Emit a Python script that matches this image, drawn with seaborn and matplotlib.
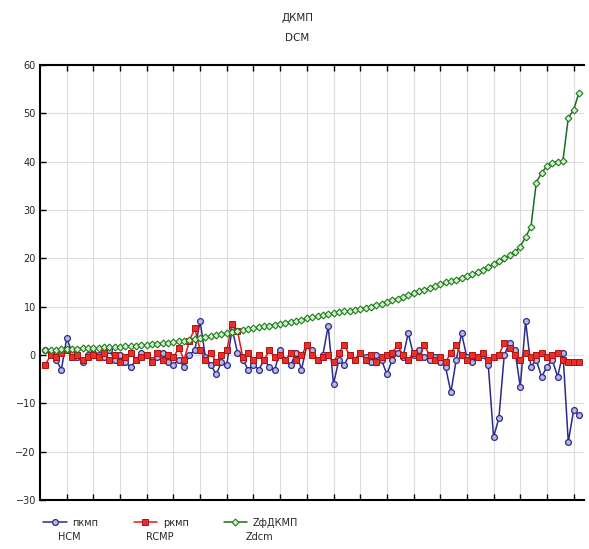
import numpy as np
import pandas as pd
import matplotlib
matplotlib.use('Agg')
import matplotlib.pyplot as plt
import seaborn as sns

# Series values (case 1..101)
hcm = [1.0, 0.5, -1.0, -3.0, 3.5, 0.5, -0.5, -1.5, 0.0, 0.5,
       0.0, -0.5, 1.0, -1.0, 0.0, -1.5, -2.5, -1.0, 0.5, 0.0,
       -1.0, -0.5, 0.5, -1.5, -2.0, -1.0, -2.5, 0.0, 1.0, 7.0,
       -0.5, -2.0, -4.0, -1.5, -2.0, 5.5, 0.5, -1.0, -3.0, -2.0,
       -3.0, -1.0, -2.5, -3.0, 1.0, -1.0, -2.0, 0.5, -3.0, 2.0,
       1.0, -1.0, 0.0, 6.0, -6.0, -1.0, -2.0, 0.0, -1.0, 0.5,
       -0.5, -1.5, 0.0, -1.0, -4.0, -1.0, 0.5, -0.5, 4.5, 0.0,
       1.0, -0.5, -1.0, -0.5, -1.5, -2.5, -7.7, -1.0, 4.5, -0.5,
       -1.4, -0.5, 0.0, -2.0, -17.0, -13.0, 0.0, 2.5, 1.0, -6.6,
       7.0, -2.4, -1.0, -4.5, -2.4, -1.0, -4.5, 0.4, -18.0, -11.4,
       -12.4]

rcmp = [-2.0, 0.0, -0.5, 0.5, 1.0, -0.5, 0.0, -1.0, -0.5, 0.0,
        -0.5, 0.5, -1.0, 0.0, -1.5, -0.5, 0.5, -1.0, -0.5, 0.0,
        -1.5, 0.5, -1.0, 0.0, -0.5, 1.5, -1.0, 3.0, 5.5, 1.0,
        -1.0, 0.5, -1.5, 0.0, 1.0, 6.5, 5.0, -0.5, 0.5, -1.0,
        0.0, -1.0, 1.0, -0.5, 0.0, -1.0, 0.5, -1.0, 0.0, 2.0,
        0.0, -1.0, -0.5, 0.0, -1.5, 0.5, 2.0, 0.0, -1.0, 0.5,
        -1.0, 0.0, -1.5, -0.5, 0.0, 0.5, 2.0, 0.0, -1.0, 0.5,
        -0.5, 2.0, 0.0, -1.0, -0.5, -1.5, 0.5, 2.0, 0.0, -1.0,
        0.0, -0.5, 0.5, -1.0, -0.5, 0.0, 2.5, 1.5, 0.0, -1.0,
        0.5, -0.5, 0.0, 0.5, -0.5, 0.0, 0.5, -1.0, -1.5, -1.5,
        -1.5]

zdcm = [1.0, 1.1, 1.1, 1.2, 1.2, 1.3, 1.3, 1.4, 1.4, 1.5,
        1.5, 1.6, 1.6, 1.7, 1.7, 1.8, 1.9, 1.9, 2.0, 2.1,
        2.2, 2.3, 2.4, 2.5, 2.7, 2.8, 3.0, 3.1, 3.3, 3.5,
        3.7, 3.9, 4.1, 4.3, 4.5, 4.7, 4.9, 5.1, 5.3, 5.5,
        5.7, 5.9, 6.1, 6.3, 6.5, 6.7, 6.9, 7.1, 7.3, 7.6,
        7.8, 8.0, 8.2, 8.4, 8.6, 8.8, 9.0, 9.2, 9.4, 9.6,
        9.8, 10.0, 10.3, 10.6, 11.0, 11.3, 11.6, 12.0, 12.4, 12.8,
        13.2, 13.5, 13.8, 14.2, 14.6, 15.0, 15.3, 15.6, 16.0, 16.3,
        16.7, 17.2, 17.6, 18.2, 18.8, 19.4, 20.0, 20.6, 21.3, 22.4,
        24.4, 26.5, 35.6, 37.7, 39.0, 39.7, 40.0, 40.2, 49.0, 50.7,
        54.2]

names = ['пкмп', 'ркмп', 'ZфДКМП']
names_en = ['HCM', 'RCMP', 'Zdcm']
y_ticks = [60, 50, 40, 30, 20, 10, 0, -10, -20, -30]

case = np.arange(1, len(zdcm) + 1)
df = pd.DataFrame({'case': case, 'hcm': hcm, 'rcmp': rcmp, 'zdcm': zdcm})

sns.set_style('white')
plt.rcParams['font.family'] = ['DejaVu Sans']

fig = plt.figure(figsize=(5.89, 5.49), dpi=100)
ax = fig.add_axes([0.068, 0.089, 0.924, 0.793])

# blue, red, green
sns.lineplot(data=df, x='case', y='hcm', ax=ax, color='#2b2b8c', lw=1.1,
             marker='o', markersize=4.2, markerfacecolor='#b9b9e0',
             markeredgecolor='#2b2b8c', markeredgewidth=0.9, label=names[0])
sns.lineplot(data=df, x='case', y='rcmp', ax=ax, color='#e01a1a', lw=1.1,
             marker='s', markersize=4.2, markerfacecolor='#e8302a',
             markeredgecolor='#b01010', markeredgewidth=0.7, label=names[1])
sns.lineplot(data=df, x='case', y='zdcm', ax=ax, color='#1c6b1c', lw=1.1,
             marker='D', markersize=3.5, markerfacecolor='#d5efcc',
             markeredgecolor='#1c7a1c', markeredgewidth=0.8, label=names[2])

ax.set_xlim(0, 102)
ax.set_ylim(-30, 60)
ax.set_yticks(y_ticks)
ax.set_xticks(np.arange(5, 101, 5))
ax.set_xticklabels([])
ax.set_xlabel('')
ax.set_ylabel('')
ax.grid(True, color='#dcdcdc', lw=0.8)
ax.set_axisbelow(True)
ax.tick_params(axis='both', direction='in', length=4, width=1, color='black',
               top=True, bottom=True, left=True, right=False, labelsize=7,
               pad=3)
for s in ['top', 'left', 'bottom']:
    ax.spines[s].set_color('black')
    ax.spines[s].set_linewidth(1.5)
ax.spines['right'].set_visible(False)

leg = ax.legend(loc='upper left', bbox_to_anchor=(-0.01, -0.02), ncol=3,
                frameon=False, fontsize=7, handlelength=2.4, columnspacing=3.6,
                handletextpad=0.6)

# second line of each legend label, centred under the entry
fig.canvas.draw()
inv = fig.transFigure.inverted()
for txt, handle, en in zip(leg.get_texts(), leg.legend_handles, names_en):
    tb = txt.get_window_extent()
    hb = handle.get_window_extent()
    cx = (hb.x0 + tb.x1) / 2
    x, y = inv.transform((cx, tb.y0 - 9))
    fig.text(x, y, en, ha='center', va='center', fontsize=7)

fig.text(0.505, 0.967, 'ДКМП', ha='center', va='center', fontsize=7.5)
fig.text(0.505, 0.930, 'DCM', ha='center', va='center', fontsize=7.5)

fig.savefig('out.png', dpi=100)
